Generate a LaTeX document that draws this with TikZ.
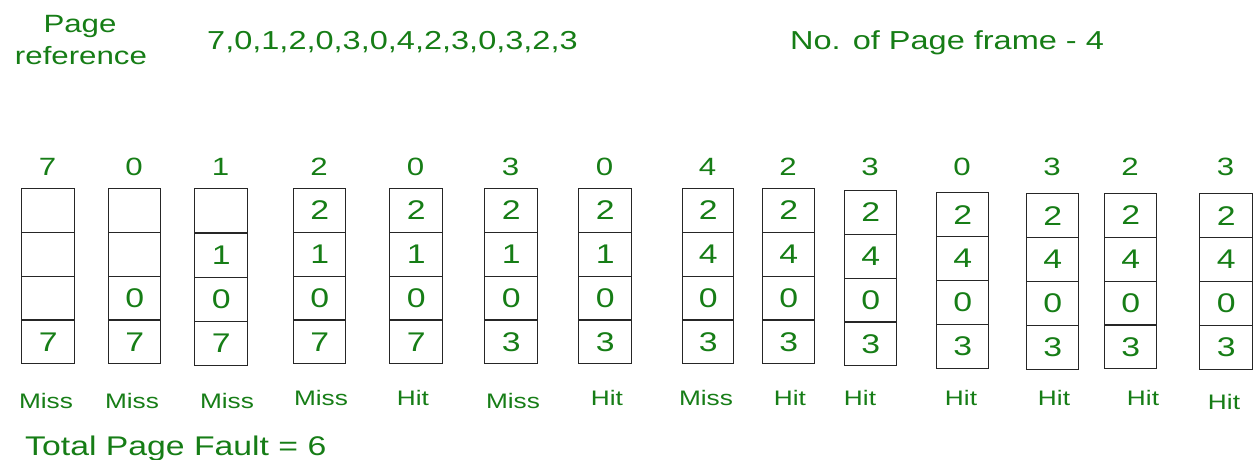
\documentclass[tikz,border=0pt]{standalone}
\usepackage{fontspec}
\setmainfont{Liberation Sans}[FakeStretch=1.25]
\definecolor{gfg}{RGB}{22,125,22}
\begin{document}
\begin{tikzpicture}[x=1pt,y=-1pt,
  txt/.style={text=gfg, inner sep=0pt, font=\fontsize{25}{30}\selectfont},
  lbl/.style={text=gfg, inner sep=0pt, anchor=base, font=\fontsize{21}{25}\selectfont},
  head/.style={text=gfg, inner sep=0pt, anchor=base, font=\fontsize{25}{30}\selectfont},
  cell/.style={draw=black!85, line width=1.3pt, anchor=north west, inner sep=0pt,
    text=gfg, font=\fontsize{27}{30}\selectfont}]
\useasboundingbox (0,0) rectangle (1255,460);
\node[txt, anchor=base] (pg) at (80,33) {Page};
\node[txt, anchor=base] (ref) at (81,65) {reference};
\node[txt, anchor=base west, font=\fontsize{26}{30}\selectfont] (seq) at (207,50) {7,0,1,2,0,3,0,4,2,3,0,3,2,3};
\node[txt, anchor=base west, font=\fontsize{26}{30}\selectfont] (nf) at (790,50) {No. of Page frame - 4};
\foreach \i/\l/\r/\t/\b/\h/\va/\vb/\vc/\vd/\s/\sx/\sy in {
  1/21/74/188/363/7/{}/{}/{}/7/Miss/46/408,
  2/108/160/188/363/0/{}/{}/0/7/Miss/132/408,
  3/194/247/188/365/1/{}/1/0/7/Miss/227/408,
  4/293/345/188/363/2/2/1/0/7/Miss/321/405,
  5/389/442/188/363/0/2/1/0/7/Hit/413/405,
  6/484/537/188/363/3/2/1/0/3/Miss/513/408,
  7/578/631/188/363/0/2/1/0/3/Hit/607/405,
  8/682/733/188/363/4/2/4/0/3/Miss/706/405,
  9/762/814/188/363/2/2/4/0/3/Hit/790/405,
  10/844/896/190/365/3/2/4/0/3/Hit/860/405,
  11/936/988/192/368/0/2/4/0/3/Hit/961/405,
  12/1026/1078/193/369/3/2/4/0/3/Hit/1054/405,
  13/1104/1156/193/368/2/2/4/0/3/Hit/1143/405,
  14/1199/1252/193/369/3/2/4/0/3/Hit/1224/409}{
  \pgfmathsetmacro{\w}{\r-\l}
  \pgfmathsetmacro{\hh}{(\b-\t)/4}
  \node[head] (h\i) at ({(\l+\r)/2},175) {\h};
  \node[cell, minimum width=\w pt, minimum height=\hh pt] (c\i a) at (\l,\t) {\va};
  \node[cell, minimum width=\w pt, minimum height=\hh pt] (c\i b) at (\l,{\t+\hh}) {\vb};
  \node[cell, minimum width=\w pt, minimum height=\hh pt] (c\i c) at (\l,{\t+2*\hh}) {\vc};
  \node[cell, minimum width=\w pt, minimum height=\hh pt] (c\i d) at (\l,{\t+3*\hh}) {\vd};
  \node[lbl] (s\i) at (\sx,\sy) {\s};
}
\node[txt, anchor=base west, font=\fontsize{27}{30}\selectfont] (tot) at (25,455) {Total Page Fault = 6};
\end{tikzpicture}
\end{document}
